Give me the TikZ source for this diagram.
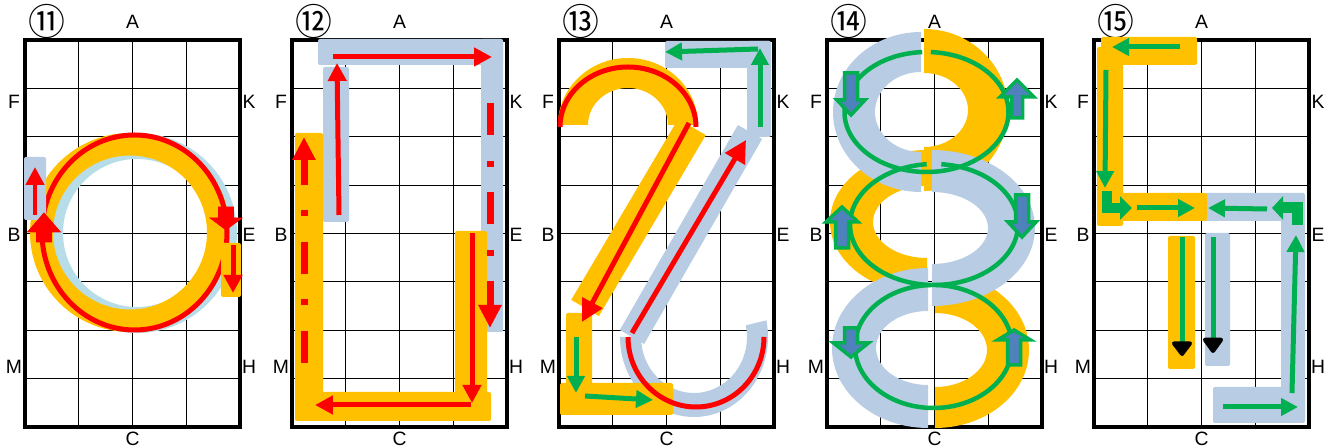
\documentclass[tikz,border=0pt]{standalone}
\usepackage{fontspec}
\setmainfont{Liberation Sans}
\newfontfamily\cjk{Noto Sans CJK JP}
\usetikzlibrary{arrows.meta, calc}

\definecolor{bandorange}{RGB}{255,192,0}
\definecolor{bandgrey}{RGB}{184,204,228}
\definecolor{bandcyan}{RGB}{183,222,232}
\definecolor{pathred}{RGB}{255,0,0}
\definecolor{pathgreen}{RGB}{0,176,80}
\definecolor{tipblue}{RGB}{79,129,189}

% half of a ring: colour, centre, outer radii, inner radii, start, end
\newcommand{\bandarc}[6]{\fill[#1] ($(#2)+(#5:#3)$) arc (#5:#6:#3) -- ($(#2)+(#6:#4)$) arc (#6:#5:#4) -- cycle;}
% block arrow: style, x, y start, y base, y tip, shaft half, head half
\newcommand{\blockarrow}[7]{\filldraw[#1] (#2-#6,#3) -- (#2+#6,#3) -- (#2+#6,#4) -- (#2+#7,#4) -- (#2,#5) -- (#2-#7,#4) -- (#2-#6,#4) -- cycle;}

\begin{document}
\begin{tikzpicture}[x=0.02cm, y=-0.02cm,
    gridline/.style={black, line width=0.5pt},
    frame/.style={black, line width=1.8pt},
    sidelbl/.style={font=\fontsize{11}{12}\selectfont},
    panelno/.style={font=\cjk\fontsize{21}{21}\selectfont},
    redarr/.style={pathred, line width=0.1cm, -{Triangle[width=0.36cm,length=0.36cm]}},
    dashred/.style={pathred, line width=0.14cm, dash pattern=on 0.64cm off 0.52cm on 0.12cm off 0.5cm,
                    -{Triangle[width=0.44cm,length=0.46cm]}},
    redline/.style={pathred, line width=0.1cm},
    grnarr/.style={pathgreen, line width=0.1cm, -{Triangle[width=0.34cm,length=0.34cm]}},
    grnline/.style={pathgreen, line width=0.09cm},
    tipbox/.style={draw=pathgreen, fill=tipblue, line width=0.07cm},
    ora/.style={fill=bandorange, rounded corners=0.04cm},
    gry/.style={fill=bandgrey, rounded corners=0.04cm}
  ]
  \useasboundingbox (0,0) rectangle (1340,448);

  % grids and labels
  \foreach \px/\num in {25/⑪, 292/⑫, 559/⑬, 827/⑭, 1094/⑮} {
    \begin{scope}[shift={(\px,0)}]
      \foreach \i in {1,2,3} \draw[gridline] (\i*53.75,40) -- (\i*53.75,427);
      \foreach \j in {1,...,7} \draw[gridline] (0,40+\j*48.375) -- (215,40+\j*48.375);
      \draw[frame] (0,40) rectangle (215,427);
      \node[panelno] (no\px) at (22,21) {\num};
      \node[sidelbl] (a\px) at (107.5,22) {A};
      \node[sidelbl] (c\px) at (107.5,439) {C};
      \node[sidelbl] (f\px) at (-11,102) {F};
      \node[sidelbl] (b\px) at (-11,235) {B};
      \node[sidelbl] (m\px) at (-11,367) {M};
      \node[sidelbl] (k\px) at (224,102) {K};
      \node[sidelbl] (e\px) at (224,235) {E};
      \node[sidelbl] (h\px) at (224,367) {H};
    \end{scope}
  }

  % 11
  \begin{scope}[shift={(25,0)}]
    \fill[bandcyan, even odd rule] (112,233) circle[radius=100] (112,233) circle[radius=74];
    \fill[bandorange, even odd rule] (105,232.5) ellipse[x radius=100, y radius=99.5] (105,232.5) circle[radius=77];
    \draw[redline] (109.5,232.5) ellipse[x radius=92.5, y radius=97.5];
    \path[gry] (-1,157) rectangle (21,220);
    \draw[redarr] (10,215) -- (10,167);
    \path[ora] (196,243) rectangle (216,297);
    \draw[redarr] (208,245) -- (208,293);
    \blockarrow{pathred}{19}{242}{232}{213}{7.5}{16.5}
    \blockarrow{pathred}{201}{207}{218}{230}{7.5}{16}
  \end{scope}

  % 12
  \begin{scope}[shift={(292,0)}]
    \path[gry] (26,39) rectangle (211,65);
    \path[gry] (189,39) rectangle (211,332);
    \path[gry] (31,67) rectangle (57,222);
    \path[ora] (3,133) rectangle (31,421);
    \path[ora] (3,392) rectangle (199,421);
    \path[ora] (163,231) rectangle (195,421);
    \draw[redarr] (47,215) -- (45,63);
    \draw[redarr] (41,57) -- (200,57);
    \draw[dashred] (198,103) -- (198,328);
    \draw[dashred] (12,363) -- (12,137);
    \draw[redarr] (180,233) -- (180,403);
    \draw[redarr] (179,405) -- (23,405);
  \end{scope}

  % 13
  \begin{scope}[shift={(559,0)}]
    \path[gry] (106,41) rectangle (212,68);
    \path[gry] (188,41) rectangle (212,137);
    \draw[bandgrey, line width=0.56cm] (191,132) -- (73,337);
    \bandarc{bandgrey}{135,337}{74 and 80}{53 and 56}{180}{-12}
    \bandarc{bandorange}{69,125}{70 and 67}{40 and 37}{180}{360}
    \draw[bandorange, line width=0.64cm] (133,127) -- (26,308);
    \path[ora] (7,313) rectangle (33,415);
    \path[ora] (1,383) rectangle (114,415);
    \draw[redline] (69,127) ++(180:68 and 60) arc (180:360:68 and 60);
    \draw[redarr, -{Triangle[width=0.44cm,length=0.44cm]}] (130,123) -- (23,322);
    \draw[redarr, -{Triangle[width=0.44cm,length=0.44cm]}] (73,333) -- (187,140);
    \draw[redline] (137,337) ++(180:68 and 70) arc (180:0:68 and 70);
    \draw[grnarr] (17,337) -- (17,393);
    \draw[grnarr] (26,396) -- (94,400);
    \draw[grnarr] (201,127) -- (201,48);
    \draw[grnarr] (199,49) -- (106,52);
  \end{scope}

  % 14
  \begin{scope}[shift={(827,0)}]
    \bandarc{bandorange}{97,110}{84 and 81}{44 and 37}{-90}{90}
    \bandarc{bandorange}{100,222}{97 and 72}{54 and 36}{270}{90}
    \bandarc{bandorange}{108,350}{94 and 78}{52 and 37}{-90}{90}
    \bandarc{bandgrey}{94,112}{88 and 80}{46 and 40}{270}{90}
    \bandarc{bandgrey}{105,228}{103 and 78}{56 and 36}{-90}{90}
    \bandarc{bandgrey}{101,348}{96 and 80}{52 and 37}{270}{90}
    \draw[grnline] (99.5,112) ++(-87:82 and 60) arc (-87:267:82 and 60);
    \draw[grnline] (107,224.5) ++(-85:84 and 60.5) arc (-85:265:84 and 60.5);
    \draw[grnline] (106.5,346.5) ++(-88:78.5 and 61.5) arc (-88:268:78.5 and 61.5);
    \blockarrow{tipbox}{24}{73}{100}{115}{6.5}{14}
    \blockarrow{tipbox}{190}{118}{97}{80}{5.5}{17}
    \blockarrow{tipbox}{15}{248}{222}{207}{6.5}{16}
    \blockarrow{tipbox}{195}{195}{222}{237}{6.5}{14}
    \blockarrow{tipbox}{24}{328}{343}{357}{6.5}{17.5}
    \blockarrow{tipbox}{187}{365}{340}{330}{6.5}{16.5}
  \end{scope}

  % 15
  \begin{scope}[shift={(1094,0)}]
    \path[gry] (111,193) rectangle (211,221);
    \path[gry] (187,195) rectangle (211,421);
    \path[gry] (119,387) rectangle (211,423);
    \path[gry] (111,233) rectangle (136,366);
    \path[ora] (7,37) rectangle (103,65);
    \path[ora] (3,47) rectangle (29,226);
    \path[ora] (3,193) rectangle (113,221);
    \path[ora] (74,236) rectangle (101,369);
    \draw[grnarr] (86,47) -- (18,47);
    \draw[grnarr] (12,70) -- (11,188);
    \draw[pathgreen, line width=0.2cm, -{Triangle[width=0.46cm,length=0.24cm]}] (13,191) |- (38,208);
    \draw[grnarr] (43,208) -- (101,208);
    \draw[grnarr] (173,209) -- (114,208);
    \draw[pathgreen, line width=0.22cm, -{Triangle[width=0.46cm,length=0.22cm]}] (203.5,225) |- (178,208);
    \draw[grnarr] (198,393) -- (202,235);
    \draw[grnarr] (129,407) -- (204,407);
    \draw[grnarr, -{Triangle[width=0.46cm,length=0.32cm,color=black,round]}] (88,237) -- (88,356);
    \draw[grnarr, -{Triangle[width=0.46cm,length=0.34cm,color=black,round]}] (119,237) -- (119,353);
  \end{scope}
\end{tikzpicture}
\end{document}
